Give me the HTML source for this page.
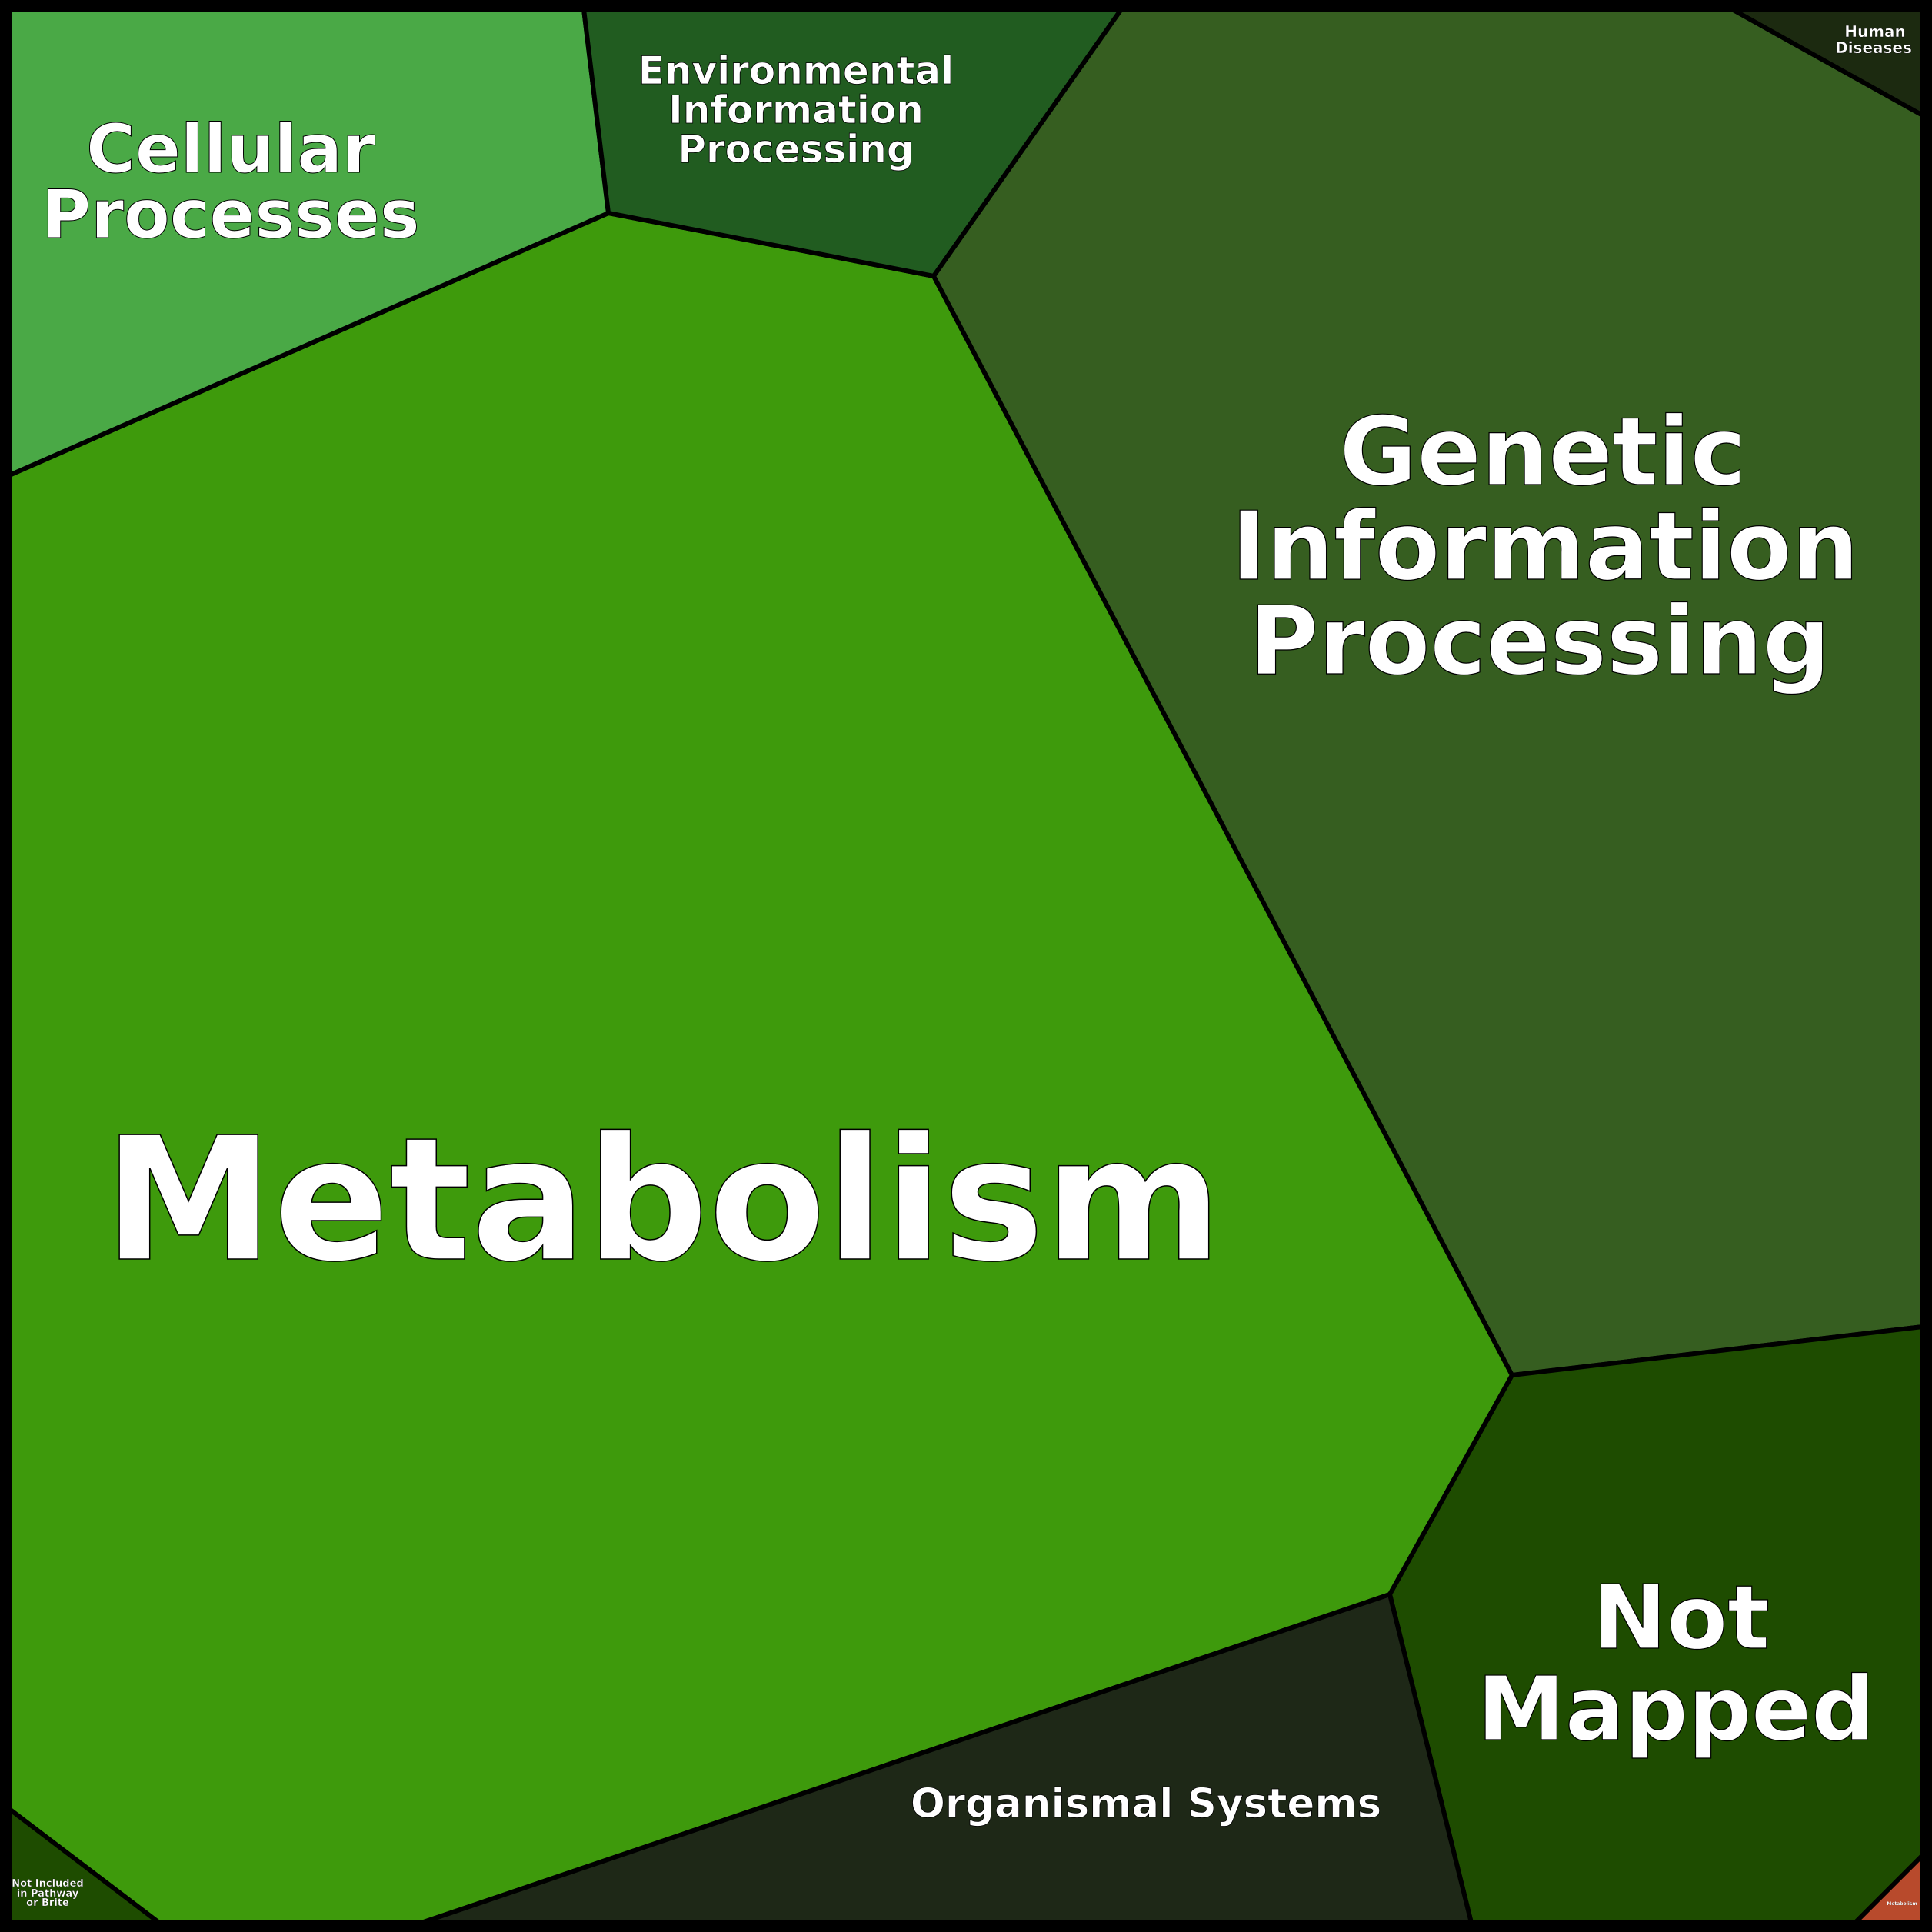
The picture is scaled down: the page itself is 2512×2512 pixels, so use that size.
<!DOCTYPE html>
<html><head><style>html,body{margin:0;padding:0;background:#000}svg{display:block}
text{font-family:"DejaVu Sans","Liberation Sans",sans-serif;font-weight:bold;fill:#fff;stroke:#000;text-anchor:middle}</style></head>
<body>
<svg width="2512" height="2512" viewBox="0 0 2512 2512" xmlns="http://www.w3.org/2000/svg">
<rect x="0" y="0" width="2512" height="2512" fill="#000"/>
<g stroke="#000" stroke-width="6" stroke-linejoin="round">
<polygon points="12,618 791,277 1214,359 1966,1788 1807,2073 548,2500 207,2500 12,2352" fill="#3e9a0c"/>
<polygon points="12,12 759,12 791,277 12,618" fill="#4aa946"/>
<polygon points="759,12 1458,12 1214,359 791,277" fill="#215c20"/>
<polygon points="1458,12 2252,12 2500,150 2500,1725 1966,1788 1214,359" fill="#365e20"/>
<polygon points="2252,12 2500,12 2500,150" fill="#1c2a10"/>
<polygon points="1966,1788 2500,1725 2500,2412 2412,2500 1913,2500 1807,2073" fill="#1e4c00"/>
<polygon points="1807,2073 1913,2500 548,2500" fill="#1e2817"/>
<polygon points="12,2352 207,2500 12,2500" fill="#1e4c00"/>
<polygon points="2500,2412 2500,2500 2412,2500" fill="#b84a2c"/>
</g>
<rect x="5" y="5" width="2502" height="2502" fill="none" stroke="#000" stroke-width="10"/>
<text x="862" y="1637" font-size="222" stroke-width="1.5">Metabolism</text>
<g font-size="123" stroke-width="1.2">
<text x="2006" y="630">Genetic</text>
<text x="2009" y="753">Information</text>
<text x="2002" y="876">Processing</text>
</g>
<g font-size="87" stroke-width="1">
<text x="300" y="224">Cellular</text>
<text x="300" y="309">Processes</text>
</g>
<g font-size="50" stroke-width="0.8">
<text x="1035" y="109">Environmental</text>
<text x="1035" y="160">Information</text>
<text x="1035" y="211">Processing</text>
</g>
<g font-size="115" stroke-width="1.2">
<text x="2186" y="2143">Not</text>
<text x="2179" y="2262">Mapped</text>
</g>
<text x="1490" y="2363" font-size="53" stroke-width="0.8">Organismal Systems</text>
<g font-size="20" stroke-width="0.4">
<text x="2438" y="48">Human</text>
<text x="2436" y="69">Diseases</text>
</g>
<g font-size="13" stroke-width="0.3">
<text x="62" y="2453">Not Included</text>
<text x="62" y="2466">in Pathway</text>
<text x="62" y="2478">or Brite</text>
</g>
<text x="2473" y="2477" font-size="6" stroke-width="0.1">Metabolism</text>
</svg>
</body></html>
